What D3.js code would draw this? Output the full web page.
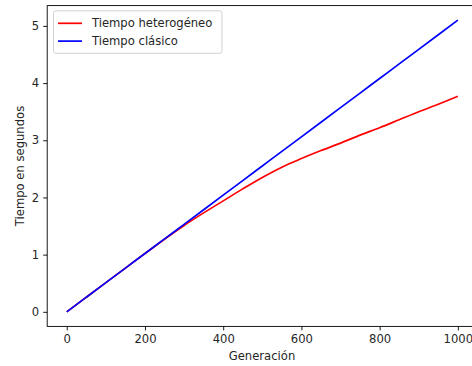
<!DOCTYPE html>
<html>
<head>
<meta charset="utf-8">
<script src="https://cdn.jsdelivr.net/npm/d3@7"></script>
<style>
  body { margin: 0; background: #fff; }
  svg text { font-family: "DejaVu Sans", sans-serif; fill: #262626; }
</style>
</head>
<body>
<svg id="chart" width="472" height="366"></svg>
<script>
// generations sampled every 50
const generaciones = [0, 50, 100, 150, 200, 250, 300, 350, 400, 450, 500, 550, 600, 650, 700, 750, 800, 850, 900, 950, 1000];
const tiempoHeterogeneo = [0, 0.255, 0.51, 0.765, 1.02, 1.27, 1.51, 1.73, 1.94, 2.15, 2.35, 2.53, 2.68, 2.82, 2.95, 3.09, 3.22, 3.36, 3.50, 3.63, 3.77];
const tiempoClasico = [0, 0.255, 0.51, 0.765, 1.02, 1.275, 1.53, 1.785, 2.04, 2.295, 2.55, 2.805, 3.06, 3.315, 3.57, 3.825, 4.08, 4.335, 4.59, 4.845, 5.1];
const xTicks = [0, 200, 400, 600, 800, 1000];
const yTicks = [0, 1, 2, 3, 4, 5];

const series = [
  { name: "Tiempo heterogéneo", values: tiempoHeterogeneo, color: "#ff0000" },
  { name: "Tiempo clásico", values: tiempoClasico, color: "#0000ff" }
];

const margin = { left: 47.2, right: 477.4, top: 5.6, bottom: 326.4 };
const fontSize = 11.6;

const x = d3.scaleLinear().domain([-50, 1050]).range([margin.left, margin.right]);
const y = d3.scaleLinear().domain([-0.255, 5.355]).range([margin.bottom, margin.top]);

const svg = d3.select("#chart");

// lines
const line = d3.line()
  .curve(d3.curveMonotoneX)
  .x((d, i) => x(generaciones[i]))
  .y(d => y(d));

svg.append("g")
  .selectAll("path")
  .data(series)
  .join("path")
    .attr("fill", "none")
    .attr("stroke", d => d.color)
    .attr("stroke-width", 1.7)
    .attr("d", d => line(d.values));

// axes
const xAxis = d3.axisBottom(x).tickValues(xTicks).tickFormat(d3.format("d")).tickSize(4).tickPadding(4).tickSizeOuter(0);
const yAxis = d3.axisLeft(y).tickValues(yTicks).tickFormat(d3.format("d")).tickSize(4).tickPadding(4).tickSizeOuter(0);

const gx = svg.append("g").attr("transform", `translate(0,${margin.bottom})`).call(xAxis);
const gy = svg.append("g").attr("transform", `translate(${margin.left},0)`).call(yAxis);

[gx, gy].forEach(g => {
  g.select(".domain").remove();
  g.selectAll("line").attr("stroke", "#000").attr("stroke-width", 0.9);
  g.selectAll("text").attr("font-size", fontSize).attr("font-family", "DejaVu Sans").attr("fill", "#262626");
});

// spines
svg.append("rect")
  .attr("x", margin.left).attr("y", margin.top)
  .attr("width", margin.right - margin.left).attr("height", margin.bottom - margin.top)
  .attr("fill", "none")
  .attr("stroke", "#000").attr("stroke-width", 0.9);

// axis labels
svg.append("text")
  .attr("x", 262)
  .attr("y", 360)
  .attr("text-anchor", "middle")
  .attr("font-size", fontSize)
  .text("Generación");

svg.append("text")
  .attr("transform", `translate(24,${(margin.top + margin.bottom) / 2}) rotate(-90)`)
  .attr("text-anchor", "middle")
  .attr("font-size", fontSize)
  .text("Tiempo en segundos");

// legend
const legend = svg.append("g");
legend.append("rect")
  .attr("x", 53.5).attr("y", 10.8)
  .attr("width", 168.5).attr("height", 42.5)
  .attr("rx", 2.5)
  .attr("fill", "#fff").attr("fill-opacity", 0.8)
  .attr("stroke", "#cccccc").attr("stroke-width", 0.9);

const item = legend.selectAll("g.item")
  .data(series)
  .join("g")
    .attr("class", "item")
    .attr("transform", (d, i) => `translate(0,${23.3 + i * 17.8})`);

item.append("line")
  .attr("x1", 58).attr("x2", 82)
  .attr("stroke", d => d.color)
  .attr("stroke-width", 1.7);

item.append("text")
  .attr("x", 92)
  .attr("dy", "0.35em")
  .attr("font-size", fontSize)
  .text(d => d.name);
</script>
</body>
</html>
